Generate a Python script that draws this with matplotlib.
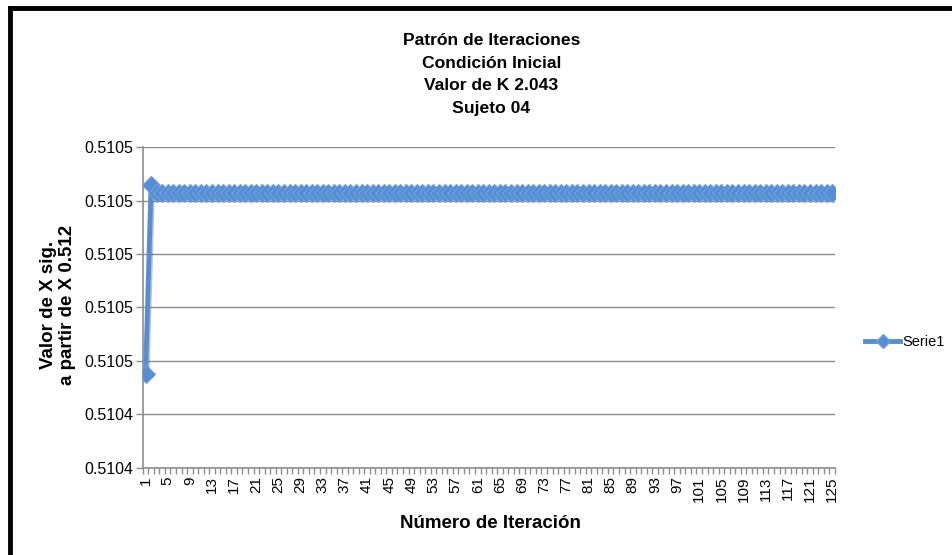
#import library
import matplotlib
matplotlib.use("Agg")
import matplotlib.pyplot as plt
from matplotlib.lines import Line2D
import numpy as np

plt.rcParams['font.family'] = ['Liberation Sans', 'DejaVu Sans']

#data
iteraciones = list(range(1, 126))
valores_x = [0.510455, 0.510526] + [0.510523] * 123
y_ticks = [0.51042, 0.51044, 0.51046, 0.51048, 0.51050, 0.51052, 0.51054]
x_labels = [str(i) for i in range(1, 126, 4)]

titulo = "Patrón de Iteraciones\nCondición Inicial\nValor de K 2.043\nSujeto 04"
etiqueta_y = "Valor de X sig.\na partir de X 0.512"
etiqueta_x = "Número de Iteración"
serie = "Serie1"

azul = '#558ED5'
borde_marca = '#6E9FDC'
gris = '#8C8C8C'

fig = plt.figure(figsize=(9.52, 5.55), dpi=100)
ax = fig.add_axes([0.150, 0.157, 0.727, 0.578])

#sombra suave bajo la serie
ax.plot(iteraciones, valores_x, color='#555555', lw=3.5, alpha=0.35,
        transform=ax.transData + matplotlib.transforms.ScaledTranslation(1.5/100, -2/100, fig.dpi_scale_trans),
        zorder=2)
ax.plot(iteraciones, valores_x, color=azul, lw=3.5, marker='D', markersize=9,
        markerfacecolor=azul, markeredgecolor=borde_marca, markeredgewidth=0.8,
        zorder=3)

#ejes
ax.set_xlim(0.5, 125.5)
ax.set_ylim(y_ticks[0], y_ticks[-1])
ax.set_yticks(y_ticks)
ax.set_yticklabels(['%.4f' % v for v in y_ticks], fontsize=11.5)
ax.set_xticks(list(range(1, 126, 4)))
ax.set_xticklabels(x_labels, rotation=90, fontsize=11)
ax.set_xticks(np.arange(0.5, 126, 1), minor=True)
ax.tick_params(axis='x', which='major', length=0, pad=6)
ax.tick_params(axis='x', which='minor', length=4, color=gris, width=1)
ax.tick_params(axis='y', length=5, color=gris, width=1, pad=2)

ax.grid(axis='y', color=gris, lw=1)
ax.set_axisbelow(True)
for s in ['top', 'right']:
    ax.spines[s].set_visible(False)
for s in ['left', 'bottom']:
    ax.spines[s].set_color(gris)
    ax.spines[s].set_linewidth(1.2)

#textos
fig.text(0.516, 0.94, titulo, ha='center', va='top', fontsize=12.6,
         fontweight='bold', linespacing=1.62)
fig.text(0.061, 0.45, etiqueta_y, ha='center', va='center', rotation=90,
         fontsize=13.5, fontweight='bold', linespacing=1.1)
fig.text(0.515, 0.057, etiqueta_x, ha='center', va='center', fontsize=13.5,
         fontweight='bold')

#leyenda
h = Line2D([], [], color=azul, lw=3.5, marker='D', markersize=7,
           markerfacecolor=azul, markeredgecolor=borde_marca)
fig.legend([h], [serie], loc='center left', bbox_to_anchor=(0.903, 0.383),
           frameon=False, fontsize=10.5, handlelength=2.4, handletextpad=0.15,
           borderaxespad=0)

#borde negro
fig.add_artist(Line2D([0.0105, 0.0105], [0.0, 0.986], color='k', lw=3.5,
                      transform=fig.transFigure))
fig.add_artist(Line2D([0.0105, 1.0], [0.986, 0.986], color='k', lw=3.5,
                      transform=fig.transFigure, solid_capstyle='projecting'))

fig.savefig('out.png', dpi=100)
